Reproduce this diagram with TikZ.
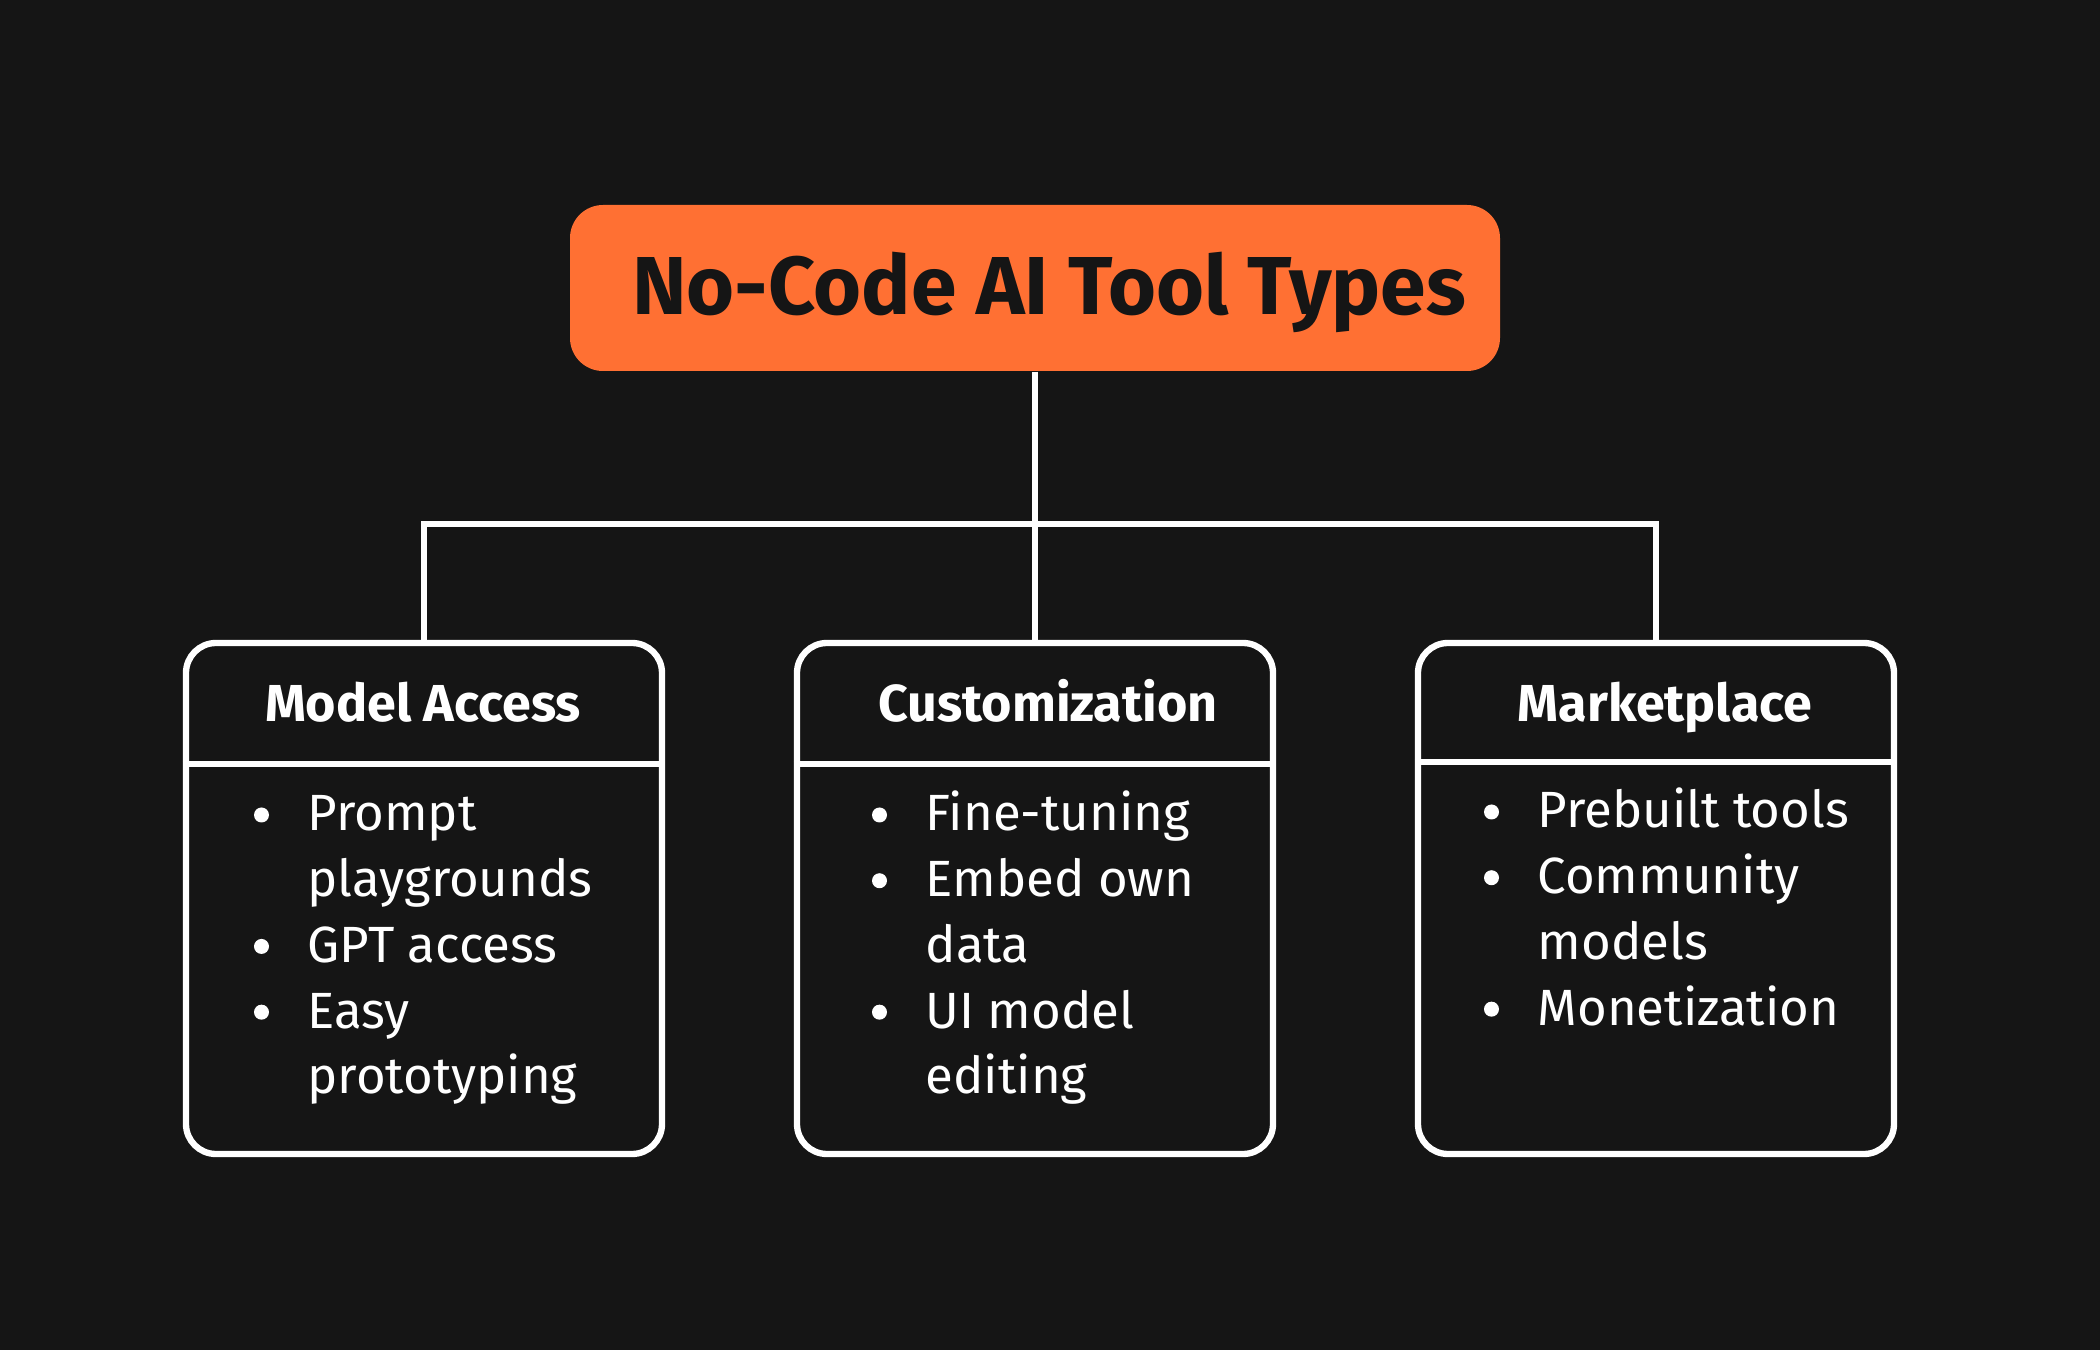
\documentclass[tikz,border=0pt]{standalone}
\usepackage{fontspec}
\setmainfont{Fira Sans}
\usetikzlibrary{positioning}
\definecolor{bgdark}{HTML}{151515}
\definecolor{toolorange}{HTML}{FF7033}
\newcommand{\itemlist}[1]{\begin{tabular}[t]{@{}p{0.55cm}@{}l@{}}#1\end{tabular}}
\tikzset{
    catbox/.style = {draw = white, line width = 1.8pt, rounded corners = 0.3cm,
        minimum width = 4.76cm, minimum height = 5.11cm, inner sep = 0},
    cathead/.style = {anchor = base, text = white, inner sep = 0,
        font = \fontsize{14.8}{18}\selectfont\bfseries},
    catlist/.style = {anchor = base west, text = white, inner sep = 0,
        font = \fontsize{14.5}{18.7}\selectfont},
    link/.style = {draw = white, line width = 1.8pt}
}
\begin{document}
\begin{tikzpicture}
            \fill [bgdark] (0, 0) rectangle (21, 13.5);
            \useasboundingbox (0, 0) rectangle (21, 13.5);
            \node [fill = toolorange, rounded corners = 0.33cm, minimum width = 9.3cm, minimum height = 1.66cm] (title) at (10.35, 10.62) {};
            \node [anchor = base, text = bgdark, inner sep = 0, font = \fontsize{23.4}{28}\selectfont\bfseries] (titletext) at (10.49, 10.35) {No-Code AI Tool Types};
            \node [catbox] (access) at (4.24, 4.515) {};
            \node [catbox] (custom) at (10.35, 4.515) {};
            \node [catbox] (market) at (16.56, 4.515) {};
            \coordinate (bar) at (10.35, 8.26);
            \draw [link] (title.south) -- (custom.north);
            \draw [link] (access.north) -- (access.north |- bar) -- (market.north |- bar) -- (market.north);
            \draw [link] ([yshift = -1.24cm] access.north west) -- ([yshift = -1.24cm] access.north east);
            \draw [link] ([yshift = -1.24cm] custom.north west) -- ([yshift = -1.24cm] custom.north east);
            \draw [link] ([yshift = -1.22cm] market.north west) -- ([yshift = -1.22cm] market.north east);
            \node [cathead] (accesshead) at (4.23, 6.28) {Model Access};
            \node [cathead] (customhead) at (10.48, 6.28) {Customization};
            \node [cathead] (markethead) at (16.65, 6.28) {Marketplace};
            \node [catlist] (accesslist) at (2.52, 5.19) {\itemlist{& Prompt \\ & playgrounds \\ & GPT access \\ & Easy \\ & prototyping}};
            \node [catlist] (customlist) at (8.70, 5.19) {\itemlist{& Fine-tuning \\ & Embed own \\ & data \\ & UI model \\ & editing}};
            \node [catlist] (marketlist) at (14.82, 5.22) {\itemlist{& Prebuilt tools \\ & Community \\ & models \\ & Monetization}};
            \foreach \row in {0, 2, 3}
                \fill [white] ([xshift = 0.095cm, yshift = 0.16cm - \row * 18.7pt] accesslist.base west) circle (0.075cm);
            \foreach \row in {0, 1, 3}
                \fill [white] ([xshift = 0.095cm, yshift = 0.16cm - \row * 18.7pt] customlist.base west) circle (0.075cm);
            \foreach \row in {0, 1, 3}
                \fill [white] ([xshift = 0.095cm, yshift = 0.16cm - \row * 18.7pt] marketlist.base west) circle (0.075cm);
        \end{tikzpicture}
\end{document}
